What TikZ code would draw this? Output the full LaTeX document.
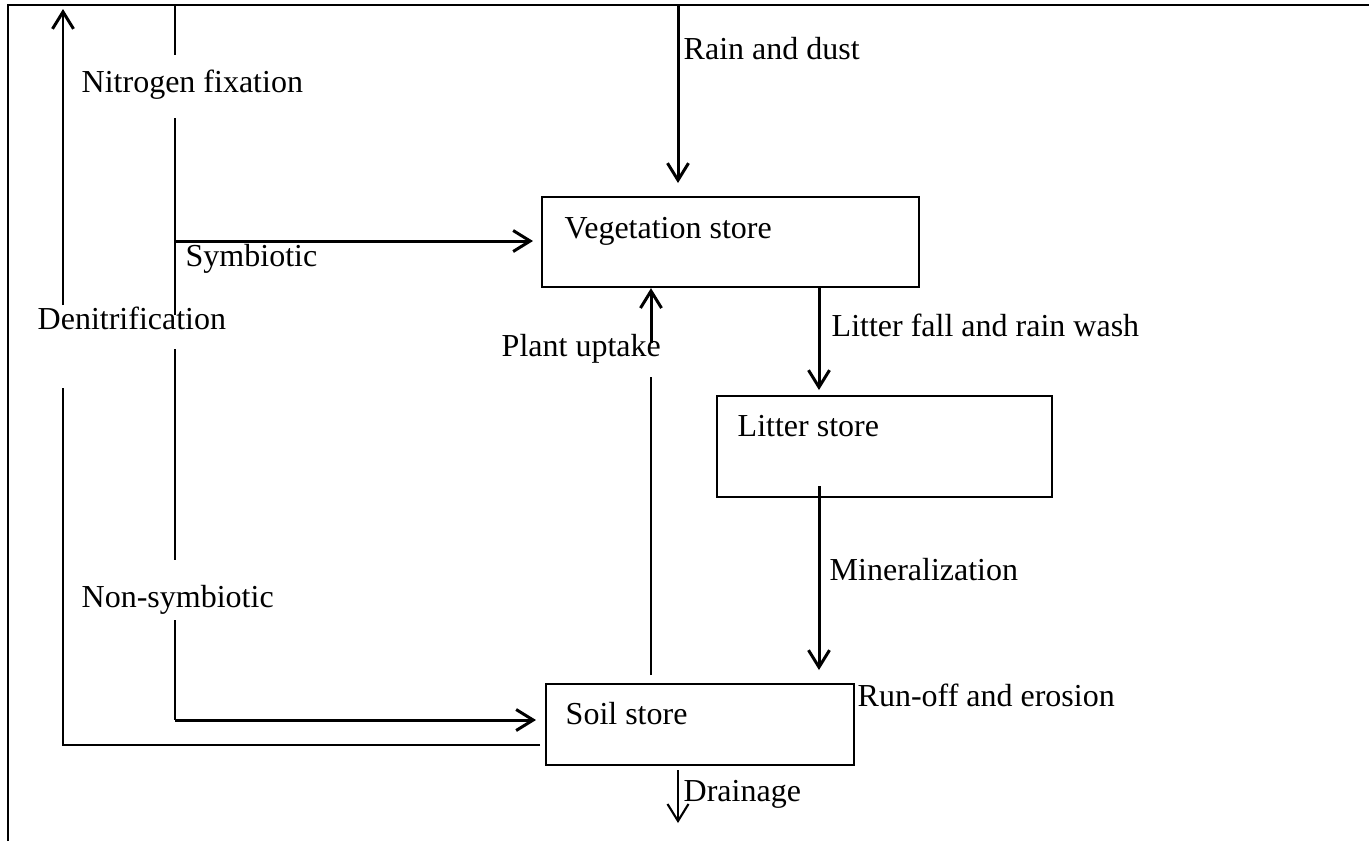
\documentclass[tikz,border=0pt]{standalone}
\usepackage{fontspec}
\setmainfont{Liberation Serif}
\usetikzlibrary{positioning,arrows.meta}
\tikzset{
  flowarrow/.style={-{Straight Barb[length=1.7mm, width=2.1mm]}, line width=0.85pt},
  flowline/.style={line width=0.45pt},
  framebox/.style={line width=0.6pt},
  store/.style={draw, line width=0.6pt, anchor=north west, inner sep=0pt},
  txt/.style={anchor=base west, inner sep=0pt}
}

\begin{document}
\begin{tikzpicture}[x=0.01cm, y=-0.01cm, every node/.style={font=\fontsize{9.1}{11}\selectfont}]
  \useasboundingbox (0,0) rectangle (1369,841);
  \draw[framebox] (8,841) -- (8,5) -- (1369,5);

  % stores
  \node[store, minimum width=3.77cm, minimum height=0.9cm] (veg) at (541,196) {};
  \node[store, minimum width=3.35cm, minimum height=1.01cm] (litter) at (716,395) {};
  \node[store, minimum width=3.08cm, minimum height=0.81cm] (soil) at (545,683) {};
  \node[txt] (vegtxt) at (564,238) {Vegetation store};
  \node[txt] (littertxt) at (737,436) {Litter store};
  \node[txt] (soiltxt) at (565,724) {Soil store};

  % labels
  \node[txt] (nfix) at (81,92) {Nitrogen fixation};
  \node[txt] (symb) at (185,266) {Symbiotic};
  \node[txt] (denit) at (37,329) {Denitrification};
  \node[txt] (nonsymb) at (81,607) {Non-symbiotic};
  \node[txt] (raindust) at (683,59) {Rain and dust};
  \node[txt] (fallwash) at (831,336) {Litter fall and rain wash};
  \node[txt] (uptake) at (501,356) {Plant uptake};
  \node[txt] (minzn) at (829,580) {Mineralization};
  \node[txt] (runoff) at (857,706) {Run-off and erosion};
  \node[txt] (drain) at (683,801) {Drainage};

  % line ends
  \coordinate (fix0) at (175,5);
  \coordinate (fix1) at (175,55);
  \coordinate (fix2) at (175,118);
  \coordinate (fix3) at (175,315);
  \coordinate (fix4) at (175,349);
  \coordinate (fix5) at (175,560);
  \coordinate (fix6) at (175,620);
  \coordinate (fix7) at (175,720);
  \coordinate (sym) at (175,241);
  \coordinate (den0) at (63,745);
  \coordinate (den1) at (63,388);
  \coordinate (den2) at (63,305);
  \coordinate (den3) at (63,9);
  \coordinate (rain) at (678,5);
  \coordinate (fall) at (819,0);
  \coordinate (up0) at (651,675);
  \coordinate (up1) at (651,377);
  \coordinate (up2) at (651,343);
  \coordinate (drain0) at (678,770);
  \coordinate (drain1) at (678,823);

  % nitrogen fixation
  \draw[flowline] (fix0) -- (fix1);
  \draw[flowline] (fix2) -- (fix3);
  \draw[flowline] (fix4) -- (fix5);
  \draw[flowline] (fix6) -- (fix7);
  \draw[flowarrow, shorten >=0.8mm] (sym) -- (sym -| veg.west);
  \draw[flowarrow, shorten >=0.9mm] (fix7) -- (fix7 -| soil.west);

  % denitrification
  \draw[flowline] ([xshift=-0.5mm]den0 -| soil.west) -- (den0) -- (den1);
  \draw[flowarrow] (den2) -- (den3);

  % flows between stores
  \draw[flowarrow, shorten >=1.3mm] (rain) -- (rain |- veg.north);
  \draw[flowarrow, shorten >=0.5mm] (veg.south -| fall) -- (litter.north -| fall);
  \draw[flowarrow, shorten >=1.3mm] ([yshift=1.2mm]litter.south -| fall) -- (soil.north -| fall);
  \draw[flowline] (up0) -- (up1);
  \draw[flowarrow] (up2) -- (up2 |- veg.south);
  \draw[flowarrow, line width=0.6pt] (drain0) -- (drain1);
\end{tikzpicture}
\end{document}
